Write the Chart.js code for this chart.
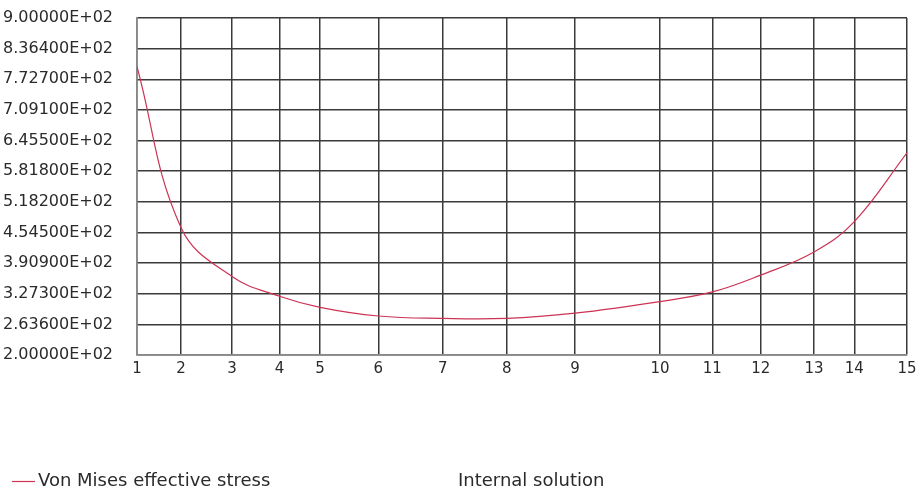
<!DOCTYPE html>
<html>
<head>
<meta charset="utf-8">
<script src="https://cdn.jsdelivr.net/npm/chart.js@4/dist/chart.umd.min.js"></script>
<style>
html,body{margin:0;padding:0;background:#fff;}
#wrap{width:919px;height:495px;position:relative;}
</style>
</head>
<body>
<div id="wrap"><canvas id="c" width="919" height="495"></canvas></div>
<script>
// Node positions along the path (percent of path length) and their labels
const nodePositions = [0, 5.71, 12.34, 18.52, 23.77, 31.35, 39.71, 48.02, 56.88, 67.92, 74.71, 81.0, 87.92, 93.16, 100];
const nodeLabels = ['1','2','3','4','5','6','7','8','9','10','11','12','13','14','15'];
// Von Mises effective stress at each node
const vonMises = [799, 465, 363, 322, 299, 281, 276, 276, 287, 311, 331, 366, 414, 477, 620];
// Y axis ticks
const yTickValues = [200, 263.6, 327.3, 390.9, 454.5, 518.2, 581.8, 645.5, 709.1, 772.7, 836.4, 900];
const yTickLabels = ['2.00000E+02','2.63600E+02','3.27300E+02','3.90900E+02','4.54500E+02','5.18200E+02','5.81800E+02','6.45500E+02','7.09100E+02','7.72700E+02','8.36400E+02','9.00000E+02'];
const seriesLabel = 'Von Mises effective stress';
const subtitleText = 'Internal solution';

const FONT = 'DejaVu Sans';
const TEXT = '#2a2a2a';
const GRID = '#3a3a3a';

const legendPlugin = {
  id: 'bottomLegend',
  afterDraw(chart) {
    const ctx = chart.ctx;
    const ds = chart.data.datasets[0];
    ctx.save();
    ctx.strokeStyle = ds.borderColor;
    ctx.lineWidth = 1.2;
    ctx.beginPath();
    ctx.moveTo(12, 481.5);
    ctx.lineTo(35, 481.5);
    ctx.stroke();
    ctx.fillStyle = TEXT;
    ctx.font = '18px "' + FONT + '"';
    ctx.textBaseline = 'middle';
    ctx.textAlign = 'left';
    ctx.fillText(ds.label, 38, 481);
    ctx.fillText(subtitleText, 458, 481);
    ctx.restore();
  }
};

new Chart(document.getElementById('c'), {
  type: 'line',
  data: {
    datasets: [{
      label: seriesLabel,
      data: nodePositions.map((x, i) => ({x: x, y: vonMises[i]})),
      borderColor: '#cc3355',
      borderWidth: 1.2,
      pointRadius: 0,
      fill: false,
      tension: 0.4
    }]
  },
  options: {
    responsive: false,
    animation: false,
    layout: {padding: {left: 3, right: 12, top: 18, bottom: 0}},
    plugins: {legend: {display: false}, tooltip: {enabled: false}},
    scales: {
      x: {
        type: 'linear',
        min: 0, max: 100,
        afterBuildTicks(scale) { scale.ticks = nodePositions.map(v => ({value: v})); },
        afterFit(scale) { scale.height = 140; scale.paddingLeft = 0; scale.paddingRight = 0; },
        ticks: {
          autoSkip: false,
          maxRotation: 0,
          padding: 5,
          color: TEXT,
          font: {family: FONT, size: 15},
          callback: (v, i) => nodeLabels[i]
        },
        grid: {color: GRID, lineWidth: 1.5, drawTicks: false},
        border: {color: '#888', width: 1.5}
      },
      y: {
        min: 200, max: 900,
        afterBuildTicks(scale) { scale.ticks = yTickValues.map(v => ({value: v})); },
        afterFit(scale) { scale.width = 134; scale.paddingTop = 0; scale.paddingBottom = 0; },
        ticks: {
          autoSkip: false,
          crossAlign: 'far',
          color: TEXT,
          font: {family: FONT, size: 16},
          callback: (v, i) => yTickLabels[i]
        },
        grid: {color: GRID, lineWidth: 1.5, drawTicks: false},
        border: {color: '#888', width: 1.5}
      }
    }
  },
  plugins: [legendPlugin]
});
</script>
</body>
</html>
